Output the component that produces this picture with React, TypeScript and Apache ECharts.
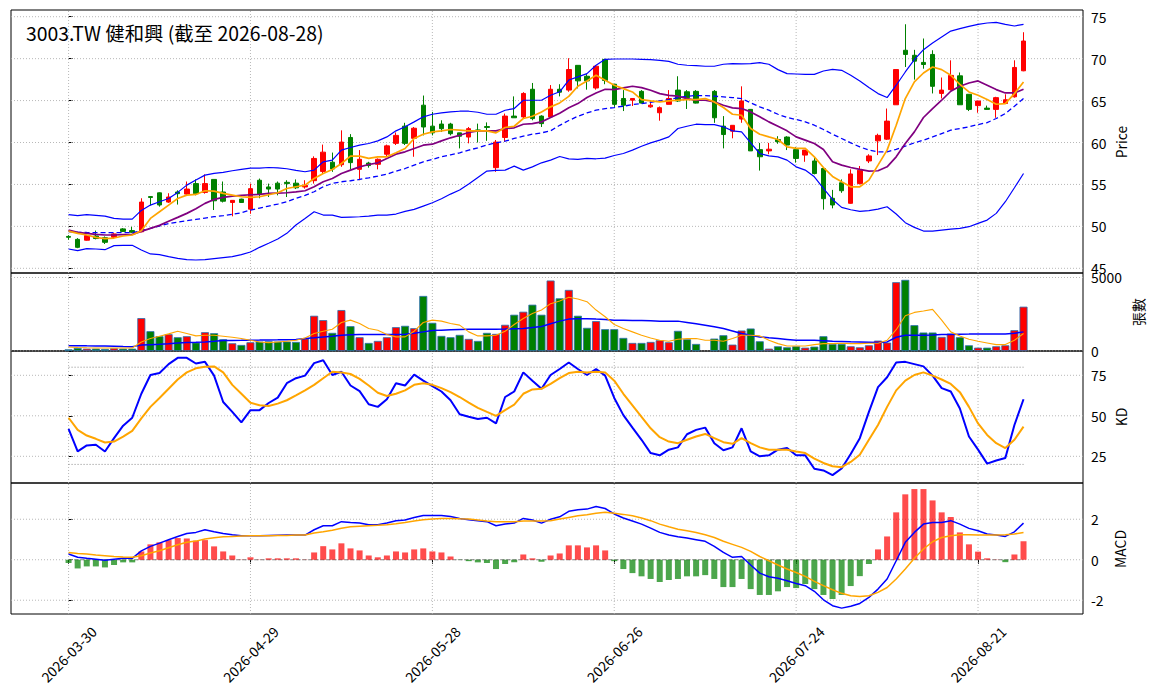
import React, { useEffect, useRef } from "react";
import * as echarts from "echarts";

const FONT = "'Noto Sans CJK TC', 'Noto Sans', sans-serif";

const TITLE = "3003.TW 健和興 (截至 2026-08-28)";

const dates = [
  "2026-03-30", "2026-03-31", "2026-04-01", "2026-04-02", "2026-04-07", "2026-04-08", "2026-04-09", "2026-04-10", "2026-04-13", "2026-04-14",
  "2026-04-15", "2026-04-16", "2026-04-17", "2026-04-20", "2026-04-21", "2026-04-22", "2026-04-23", "2026-04-24", "2026-04-27", "2026-04-28",
  "2026-04-29", "2026-04-30", "2026-05-04", "2026-05-05", "2026-05-06", "2026-05-07", "2026-05-08", "2026-05-11", "2026-05-12", "2026-05-13",
  "2026-05-14", "2026-05-15", "2026-05-18", "2026-05-19", "2026-05-20", "2026-05-21", "2026-05-22", "2026-05-25", "2026-05-26", "2026-05-27",
  "2026-05-28", "2026-05-29", "2026-06-01", "2026-06-02", "2026-06-03", "2026-06-04", "2026-06-05", "2026-06-08", "2026-06-09", "2026-06-10",
  "2026-06-11", "2026-06-12", "2026-06-15", "2026-06-16", "2026-06-17", "2026-06-18", "2026-06-22", "2026-06-23", "2026-06-24", "2026-06-25",
  "2026-06-26", "2026-06-29", "2026-06-30", "2026-07-01", "2026-07-02", "2026-07-03", "2026-07-06", "2026-07-07", "2026-07-08", "2026-07-09",
  "2026-07-10", "2026-07-13", "2026-07-14", "2026-07-15", "2026-07-16", "2026-07-17", "2026-07-20", "2026-07-21", "2026-07-22", "2026-07-23",
  "2026-07-24", "2026-07-27", "2026-07-28", "2026-07-29", "2026-07-30", "2026-07-31", "2026-08-03", "2026-08-04", "2026-08-05", "2026-08-06",
  "2026-08-07", "2026-08-10", "2026-08-11", "2026-08-12", "2026-08-13", "2026-08-14", "2026-08-17", "2026-08-18", "2026-08-19", "2026-08-20",
  "2026-08-21", "2026-08-24", "2026-08-25", "2026-08-26", "2026-08-27", "2026-08-28",
];

const opens = [
  48.8, 48.45, 48.35, 48.85, 48.65, 48.7, 49.7, 49.5, 49.35, 53.55,
  54.0, 52.9, 54.1, 53.85, 55.1, 54.05, 55.6, 54.1, 52.85, 53.25,
  52.05, 55.5, 54.7, 55.15, 55.25, 55.15, 54.7, 55.45, 56.55, 57.65,
  57.35, 60.6, 56.8, 57.55, 57.4, 58.6, 59.9, 61.95, 60.5, 64.45,
  61.95, 62.2, 62.2, 61.15, 60.65, 61.5, 61.9, 57.0, 60.6, 63.15,
  63.05, 66.35, 63.15, 63.05, 66.35, 66.25, 69.2, 67.9, 66.5, 69.9,
  66.95, 65.25, 65.05, 66.1, 64.25, 63.55, 64.55, 66.25, 66.05, 66.1,
  null, 66.1, 61.95, 61.35, 62.8, 63.95, 59.15, 59.0, 60.35, 60.65,
  59.15, 58.5, 57.8, 56.9, 53.35, 55.2, 52.75, 55.1, 57.8, 60.2,
  60.4, 64.5, 71.0, 70.4, 69.55, 70.5, 65.85, 66.3, 67.95, 65.75,
  64.4, 64.1, 63.95, 64.65, 65.45, 68.55,
];

const highs = [
  48.95, 48.6, 49.0, 49.5, 48.8, 49.2, 49.8, 49.95, 53.35, 53.6,
  54.05, 53.95, 54.3, 55.35, 55.6, 56.2, 55.6, 55.35, 53.1, 53.3,
  55.1, 55.7, 55.1, 55.35, 55.5, 55.6, 55.5, 58.35, 59.75, 58.8,
  61.45, 61.0, 59.1, 57.7, 58.1, 59.75, 61.2, 62.35, 61.85, 65.6,
  63.65, 62.65, 62.35, 61.15, 61.85, 62.25, 62.4, 60.3, 63.45, 65.5,
  66.0, 67.1, 63.25, 66.85, 66.95, 70.05, 69.2, 68.15, 69.2, 70.0,
  66.95, 66.25, 65.3, 66.25, 64.9, 64.3, 66.25, 67.9, 66.25, 66.25,
  null, 66.25, 63.15, 62.05, 66.7, 63.95, 59.95, 59.95, 60.75, 60.75,
  59.45, 59.1, 58.2, 56.9, 54.35, 55.6, 56.8, 57.2, 58.6, 61.05,
  64.05, 68.7, 74.1, 71.05, 72.4, 71.0, 67.75, 69.8, 68.35, 65.75,
  64.95, 64.4, 65.45, 65.75, 69.8, 73.15,
];

const lows = [
  48.4, 47.4, 48.3, 48.45, 47.9, 48.6, 49.35, 49.2, 49.3, 52.5,
  52.35, 52.8, 52.6, 53.7, 53.7, 53.9, 51.95, 52.85, 51.2, 52.8,
  51.5, 53.35, 53.5, 53.7, 53.5, 54.45, 54.5, 55.1, 56.3, 56.5,
  57.1, 56.8, 55.5, 57.0, 56.8, 58.3, 59.7, 59.7, 58.3, 60.85,
  60.85, 61.25, 60.85, 59.3, 59.9, 60.0, 60.2, 56.5, 60.1, 62.95,
  62.9, 62.65, 61.85, 62.95, 65.5, 66.05, 66.45, 66.3, 66.3, 66.95,
  64.25, 63.75, 64.35, 64.65, 64.15, 62.6, 64.55, 64.85, 64.0, 64.65,
  null, 62.35, 59.3, 60.5, 62.35, 59.0, 56.65, 58.6, 59.85, 59.1,
  57.6, 57.7, 56.2, 52.0, 52.15, 54.0, 52.7, 55.0, 57.55, 58.5,
  60.3, 64.5, 69.0, 67.5, 68.8, 65.85, 65.25, 66.2, 64.5, 63.75,
  63.55, 63.9, 62.95, 64.6, 65.35, 68.5,
];

const closes = [
  48.7, 47.5, 48.9, 48.55, 48.1, 49.1, 49.4, 49.3, 52.9, 53.45,
  52.55, 53.5, 53.9, 54.45, 53.9, 55.1, 53.05, 53.0, 53.1, 52.85,
  54.5, 53.85, 54.45, 54.45, 55.1, 54.6, 54.9, 58.1, 58.85, 56.85,
  60.05, 57.6, 58.0, 57.25, 58.0, 59.6, 60.85, 59.9, 61.7, 61.85,
  61.15, 61.65, 61.05, 60.75, 61.65, 61.4, 61.8, 60.05, 63.15, 62.95,
  65.85, 62.85, 62.25, 66.35, 66.0, 68.7, 67.35, 67.35, 69.1, 67.4,
  64.55, 64.45, 65.25, 64.7, 64.45, 64.15, 65.25, 64.95, 65.35, 64.7,
  null, 62.95, 60.95, 62.05, 64.95, 59.0, 58.3, 59.2, 60.1, 59.7,
  58.1, 59.1, 56.3, 53.3, 52.55, 54.25, 56.25, 56.7, 58.4, 60.85,
  62.55, 68.7, 70.5, 69.7, 69.3, 66.7, 66.25, 68.0, 64.5, 63.95,
  64.95, 63.95, 65.35, 65.1, 68.95, 72.1,
];

const ma5 = [
  49.44, 49.17, 48.97, 48.69, 48.53, 48.61, 48.85, 48.97, 49.48, 50.95,
  51.75, 52.54, 53.33, 53.73, 53.81, 54.25, 54.21, 53.93, 53.73, 53.53,
  53.45, 53.53, 53.77, 54.01, 54.52, 54.72, 54.92, 55.71, 56.31, 56.79,
  57.5, 58.37, 58.37, 58.1, 58.29, 58.29, 58.77, 59.29, 60.48, 60.99,
  61.27, 61.39, 61.55, 61.47, 61.39, 61.39, 61.39, 61.15, 61.79, 61.94,
  62.86, 63.13, 63.65, 64.25, 64.72, 65.5, 66.71, 67.34, 68.02, 67.42,
  66.83, 66.43, 66.03, 65.12, 64.96, 64.84, 64.96, 65.04, 65.12, 65.12,
  65.24, 64.84, 64.17, 63.37, 63.25, 61.67, 60.99, 60.67, 60.36, 59.48,
  59.29, 59.29, 58.29, 57.02, 55.95, 55.32, 54.72, 54.72, 55.52, 57.3,
  59.09, 62.06, 65.24, 67.22, 68.29, 69.01, 68.69, 68.02, 66.94, 66.03,
  65.63, 65.12, 64.56, 64.64, 65.83, 67.22,
];

const ma10 = [
  49.56, 49.29, 49.17, 49.05, 48.97, 48.97, 49.01, 49.05, 49.4, 49.76,
  50.12, 50.6, 51.07, 51.55, 52.1, 52.74, 53.21, 53.45, 53.61, 53.69,
  53.77, 53.81, 53.93, 53.97, 54.01, 54.11, 54.25, 54.72, 55.32, 55.71,
  56.31, 56.71, 57.1, 57.38, 57.58, 58.1, 58.61, 58.89, 59.29, 59.68,
  59.8, 60.2, 60.56, 60.87, 61.19, 61.39, 61.39, 61.39, 61.67, 61.75,
  62.18, 62.26, 62.46, 62.98, 63.5, 64.15, 64.64, 65.36, 65.91, 66.35,
  66.31, 66.51, 66.71, 66.55, 66.23, 65.83, 65.63, 65.52, 65.24, 65.04,
  65.04, 64.84, 64.44, 64.13, 64.05, 63.65, 63.06, 62.46, 61.94, 61.39,
  60.67, 60.28, 59.88, 59.17, 57.7, 57.3, 57.02, 56.79, 56.59, 56.63,
  57.1, 58.29, 59.88, 61.27, 62.98, 64.05, 65.04, 66.11, 66.71, 67.1,
  67.34, 66.83, 66.31, 65.91, 65.91, 66.35,
];

const bbUpper = [
  51.39, 51.27, 51.39, 51.31, 51.23, 50.95, 50.87, 50.87, 51.9, 52.54,
  52.94, 53.33, 54.05, 54.92, 55.52, 56.11, 56.31, 56.43, 56.63, 56.79,
  56.94, 56.94, 57.02, 56.98, 56.87, 56.67, 56.51, 56.71, 57.7, 57.9,
  59.09, 59.4, 59.68, 59.88, 60.2, 60.67, 61.39, 61.87, 62.46, 63.06,
  63.37, 63.53, 63.65, 63.73, 63.73, 63.61, 63.37, 63.37, 63.85, 64.05,
  65.04, 65.04, 65.04, 65.63, 66.05, 67.45, 67.82, 68.21, 69.21, 69.92,
  69.96, 69.96, 69.96, 69.92, 69.88, 69.8, 69.68, 69.33, 69.21, 69.17,
  69.09, 69.09, 69.33, 69.4, 69.37, 69.4, 69.52, 69.33, 68.69, 68.21,
  68.17, 68.13, 68.13, 68.53, 68.73, 68.61, 68.02, 67.34, 66.55, 65.83,
  65.36, 66.83, 68.41, 69.88, 71.07, 71.87, 72.58, 73.29, 73.57, 73.85,
  74.09, 74.25, 74.33, 74.09, 73.89, 74.09,
];

const bbMid = [
  49.37, 49.3, 49.27, 49.25, 49.25, 49.25, 49.25, 49.25, 49.48, 49.76,
  50.04, 50.32, 50.52, 50.67, 50.83, 50.99, 51.15, 51.27, 51.43, 51.63,
  51.94, 52.18, 52.42, 52.66, 52.94, 53.35, 53.69, 54.13, 54.72, 55.12,
  55.32, 55.44, 55.6, 55.79, 55.99, 56.23, 56.59, 56.9, 57.3, 57.7,
  57.98, 58.29, 58.53, 58.77, 59.09, 59.37, 59.72, 59.96, 60.16, 60.48,
  60.75, 60.99, 61.15, 61.39, 62.05, 62.62, 63.13, 63.53, 63.85, 64.05,
  64.17, 64.33, 64.52, 64.64, 64.8, 64.96, 65.12, 65.36, 65.52, 65.6,
  65.6, 65.52, 65.44, 65.36, 65.24, 64.72, 64.25, 63.85, 63.37, 62.98,
  62.74, 62.46, 62.06, 61.55, 60.99, 60.48, 59.96, 59.48, 59.09, 58.89,
  58.89, 59.17, 59.56, 59.96, 60.28, 60.67, 61.07, 61.47, 61.67, 61.87,
  62.14, 62.38, 62.86, 63.45, 64.33, 65.24,
];

const bbLower = [
  47.3, 47.1, 47.34, 47.3, 47.22, 47.7, 47.74, 47.74, 47.18, 46.71,
  46.63, 46.39, 46.19, 46.03, 45.99, 46.03, 46.15, 46.27, 46.39, 46.63,
  46.94, 47.5, 47.98, 48.49, 49.17, 50.16, 50.95, 51.75, 51.35, 51.35,
  51.07, 51.11, 51.15, 51.23, 51.35, 51.35, 51.47, 51.79, 52.02, 52.42,
  52.82, 53.29, 53.85, 54.33, 55.04, 55.83, 56.59, 56.67, 56.71, 57.18,
  56.71, 57.1, 57.58, 57.9, 58.33, 58.04, 57.98, 58.1, 58.06, 58.13,
  58.45, 58.69, 59.09, 59.56, 59.96, 60.28, 60.67, 61.67, 61.94, 62.18,
  62.14, 62.14, 61.87, 61.39, 61.27, 59.96, 58.69, 58.41, 58.29, 57.9,
  57.1, 56.71, 55.91, 54.52, 53.21, 52.26, 51.98, 51.79, 51.87, 52.06,
  52.34, 51.47, 50.44, 49.88, 49.44, 49.44, 49.56, 49.68, 49.76, 49.96,
  50.36, 50.75, 51.55, 52.94, 54.6, 56.31,
];

const volumes = [
  114, 205, 160, 160, 137, 183, 160, 160, 2237, 1347,
  1005, 1142, 936, 1005, 571, 1279, 1210, 799, 525, 411,
  594, 639, 662, 639, 639, 616, 845, 2397, 2100, 1233,
  2785, 1689, 936, 548, 685, 936, 1621, 1712, 1552, 3744,
  1918, 1027, 936, 1096, 822, 685, 1233, 1164, 1781, 2466,
  2671, 3150, 2466, 4794, 3584, 4155, 2397, 1575, 2032, 1484,
  1484, 890, 548, 548, 616, 731, 594, 1370, 799, 479,
  null, 845, 1073, 434, 1393, 1530, 662, 160, 320, 251,
  320, 228, 297, 1005, 479, 479, 320, 251, 388, 708,
  571, 4680, 4840, 1758, 1256, 1256, 959, 1187, 936, 388,
  228, 228, 320, 388, 1416, 3014,
];

const volMa5 = [
  274, 240, 220, 205, 205, 205, 205, 205, 616, 845,
  1005, 1164, 1347, 1187, 1027, 1073, 1073, 1005, 936, 845,
  731, 616, 571, 616, 662, 731, 890, 1187, 1347, 1484,
  1940, 2100, 1872, 1530, 1416, 1119, 959, 959, 1347, 1940,
  2100, 2032, 1872, 1758, 1301, 1027, 1027, 1073, 1347, 1804,
  2215, 2557, 2785, 3220, 3402, 3653, 3539, 3356, 2785, 2329,
  1804, 1530, 1301, 1073, 890, 731, 662, 799, 845, 845,
  731, 731, 662, 845, 1073, 1073, 1027, 731, 502, 342,
  342, 342, 434, 502, 502, 525, 502, 502, 525, 525,
  731, 1450, 2397, 2625, 2717, 2831, 2100, 1301, 1027, 799,
  662, 548, 434, 434, 731, 1187,
];

const volMa20 = [
  365, 360, 350, 345, 340, 330, 310, 297, 400, 430,
  460, 500, 548, 570, 590, 616, 660, 708, 720, 725,
  731, 740, 754, 760, 770, 776, 845, 900, 959, 1010,
  1073, 1100, 1119, 1119, 1119, 1119, 1130, 1142, 1200, 1301,
  1393, 1420, 1440, 1460, 1475, 1484, 1484, 1484, 1490, 1510,
  1530, 1600, 1667, 1849, 2032, 2169, 2200, 2200, 2169, 2140,
  2100, 2090, 2080, 2070, 2050, 2032, 2032, 2032, 1940, 1850,
  1758, 1650, 1530, 1360, 1187, 1070, 959, 900, 845, 790,
  731, 731, 731, 700, 662, 650, 630, 616, 600, 571,
  620, 936, 1073, 1073, 1073, 1090, 1119, 1130, 1140, 1150,
  1164, 1164, 1164, 1164, 1200, 1301,
];

const kValues = [
  41.9, 28.0, 31.7, 32.1, 28.0, 36.2, 43.9, 48.8, 63.6, 75.2,
  76.4, 81.9, 85.8, 85.8, 82.3, 83.3, 74.8, 58.5, 52.4, 45.9,
  53.5, 53.5, 57.9, 61.2, 70.1, 73.2, 74.8, 82.5, 84.3, 75.2,
  77.2, 68.7, 65.2, 57.1, 55.5, 60.2, 70.1, 68.7, 75.4, 71.7,
  68.3, 65.0, 59.6, 51.0, 49.4, 48.0, 48.8, 45.3, 61.6, 65.0,
  76.8, 71.7, 66.7, 75.2, 78.9, 82.9, 78.9, 75.2, 78.9, 74.8,
  61.0, 50.4, 42.7, 35.2, 27.0, 25.6, 29.1, 30.5, 38.6, 41.3,
  42.7, 33.1, 28.7, 30.5, 42.3, 28.0, 25.0, 25.6, 29.1, 30.1,
  25.6, 25.6, 17.3, 16.3, 13.4, 17.5, 26.4, 36.2, 52.4, 67.7,
  73.8, 82.9, 83.3, 81.9, 80.5, 74.8, 67.1, 65.0, 54.5, 37.2,
  29.1, 20.5, 22.4, 24.0, 44.3, 60.2,
];

const dValues = [
  48.8, 41.3, 37.8, 35.8, 33.5, 34.1, 37.2, 40.7, 48.4, 55.5,
  61.0, 66.7, 72.4, 76.8, 79.3, 80.3, 80.5, 76.8, 69.1, 63.6,
  58.1, 56.5, 56.1, 57.5, 59.6, 62.6, 65.7, 69.1, 73.2, 77.2,
  76.8, 75.8, 72.8, 68.7, 64.2, 62.2, 63.6, 65.7, 69.1, 70.1,
  69.1, 67.1, 64.6, 61.6, 58.1, 54.9, 52.4, 50.0, 53.5, 56.9,
  63.6, 66.3, 66.7, 69.7, 73.2, 76.4, 77.2, 76.8, 77.2, 76.8,
  71.7, 63.6, 56.5, 49.4, 42.3, 36.8, 34.1, 33.1, 35.2, 37.2,
  38.8, 36.2, 33.7, 32.7, 36.2, 33.1, 30.5, 29.1, 29.1, 29.1,
  28.0, 27.0, 23.6, 20.9, 18.9, 18.3, 21.5, 26.0, 35.2, 44.3,
  55.5, 65.7, 71.7, 75.2, 76.8, 74.8, 72.4, 69.7, 64.6, 55.5,
  45.3, 38.2, 33.1, 30.1, 35.2, 43.3,
];

const difValues = [
  0.28, 0.12, 0.07, 0.03, -0.02, 0.03, 0.07, 0.07, 0.44, 0.66,
  0.82, 0.99, 1.15, 1.3, 1.35, 1.48, 1.38, 1.3, 1.23, 1.19,
  1.19, 1.19, 1.2, 1.21, 1.22, 1.22, 1.22, 1.48, 1.68, 1.68,
  1.88, 1.84, 1.81, 1.73, 1.73, 1.81, 1.93, 1.96, 2.09, 2.19,
  2.19, 2.19, 2.14, 2.04, 1.98, 1.93, 1.88, 1.68, 1.76, 1.81,
  2.04, 1.96, 1.81, 2.0, 2.12, 2.39, 2.47, 2.5, 2.63, 2.53,
  2.26, 2.06, 1.91, 1.76, 1.56, 1.35, 1.22, 1.14, 1.07, 0.99,
  0.91, 0.66, 0.36, 0.12, 0.16, -0.26, -0.66, -0.84, -0.91, -1.04,
  -1.17, -1.28, -1.56, -1.98, -2.27, -2.39, -2.3, -2.16, -1.86, -1.45,
  -0.95, -0.05, 0.86, 1.35, 1.76, 1.84, 1.84, 1.93, 1.76, 1.55,
  1.43, 1.27, 1.22, 1.15, 1.38, 1.81,
];

const deaValues = [
  0.36, 0.31, 0.28, 0.23, 0.2, 0.16, 0.13, 0.12, 0.2, 0.33,
  0.44, 0.59, 0.74, 0.86, 0.92, 1.02, 1.09, 1.14, 1.15, 1.17,
  1.19, 1.19, 1.19, 1.2, 1.2, 1.22, 1.22, 1.32, 1.38, 1.46,
  1.55, 1.63, 1.66, 1.68, 1.7, 1.73, 1.78, 1.84, 1.91, 1.98,
  2.01, 2.04, 2.04, 2.02, 2.01, 1.96, 1.91, 1.88, 1.88, 1.88,
  1.91, 1.91, 1.91, 1.93, 2.01, 2.09, 2.17, 2.22, 2.3, 2.35,
  2.3, 2.24, 2.17, 2.06, 1.93, 1.76, 1.63, 1.51, 1.43, 1.35,
  1.23, 1.1, 0.91, 0.76, 0.61, 0.41, 0.16, -0.05, -0.26, -0.46,
  -0.63, -0.82, -1.07, -1.28, -1.48, -1.66, -1.78, -1.81, -1.78, -1.61,
  -1.37, -0.95, -0.46, 0.07, 0.53, 0.89, 1.1, 1.19, 1.23, 1.23,
  1.22, 1.22, 1.22, 1.23, 1.27, 1.35,
];

const histValues = [
  -0.16, -0.43, -0.33, -0.33, -0.38, -0.26, -0.13, -0.13, 0.41, 0.76,
  0.86, 0.97, 1.07, 1.05, 0.94, 0.97, 0.66, 0.41, 0.21, 0.01,
  0.12, 0.01, 0.07, 0.07, 0.07, 0.07, 0.01, 0.36, 0.67, 0.51,
  0.81, 0.56, 0.46, 0.21, 0.12, 0.21, 0.41, 0.36, 0.51, 0.56,
  0.41, 0.36, 0.16, -0.01, -0.07, -0.13, -0.16, -0.46, -0.21, -0.13,
  0.26, 0.07, -0.1, 0.21, 0.31, 0.71, 0.71, 0.61, 0.71, 0.46,
  -0.07, -0.46, -0.66, -0.82, -0.95, -1.1, -1.0, -0.95, -0.82, -0.82,
  -0.76, -0.95, -1.35, -1.35, -0.95, -1.45, -1.74, -1.74, -1.56, -1.35,
  -1.4, -1.2, -1.45, -1.74, -1.94, -1.74, -1.3, -0.81, -0.21, 0.51,
  1.15, 2.34, 3.23, 3.49, 3.49, 2.93, 2.34, 2.11, 1.35, 0.76,
  0.4, 0.07, 0.01, -0.12, 0.26, 0.91,
];

const xTickIdx = [0, 20, 40, 60, 80, 100];
const priceTicks = [45, 50, 55, 60, 65, 70, 75];
const volTicks = [0, 5000];
const kdTicks = [25, 50, 75];
const macdTicks = [-2, 0, 2];
const kdGuides = [20, 80];
const macdZero = [0];

const X_MIN = -6.33;
const X_MAX = 111.54;
const PRICE_RANGE = [44.44, 75.8];
const VOL_RANGE = [0, 5306];
const KD_RANGE = [8.52, 90.0];
const MACD_RANGE = [-2.68, 3.79];

const UP = "#ff0000";
const DOWN = "#008000";

function lineSeries(k: number, arr: number[], color: string, width: number, type: any = "solid", z = 4) {
  return {
    type: "line",
    xAxisIndex: k,
    yAxisIndex: k,
    data: arr.map((v, i) => [i, v]),
    showSymbol: false,
    symbol: "none",
    lineStyle: { color, width, type },
    silent: true,
    z,
  };
}

function gridLines(k: number, yRange: number[], yTicks: number[]) {
  const style = { color: "#b0b0b0", width: 0.9, type: [1, 2] };
  const out: any[] = [];
  xTickIdx.forEach((x) =>
    out.push({
      type: "line", xAxisIndex: k, yAxisIndex: k, silent: true, z: 0,
      showSymbol: false, symbol: "none", lineStyle: style,
      data: [[x, yRange[0]], [x, yRange[1]]],
    })
  );
  yTicks.forEach((y) =>
    out.push({
      type: "line", xAxisIndex: k, yAxisIndex: k, silent: true, z: 0,
      showSymbol: false, symbol: "none", lineStyle: style,
      data: [[X_MIN, y], [X_MAX, y]],
    })
  );
  return out;
}

function guideLines(k: number, vals: number[], color: string, type: any, width: number) {
  return vals.map((y) => ({
    type: "line", xAxisIndex: k, yAxisIndex: k, silent: true, z: 1,
    showSymbol: false, symbol: "none", lineStyle: { color, type, width },
    data: [[0, y], [dates.length - 1, y]],
  }));
}

function yAxis(k: number, range: number[], ticks: number[]) {
  return {
    type: "value",
    gridIndex: k,
    position: "right",
    min: range[0],
    max: range[1],
    axisLine: { show: false },
    splitLine: { show: false },
    axisTick: { show: true, inside: false, length: 4, customValues: ticks, lineStyle: { color: "#000", width: 1 } },
    axisLabel: {
      show: true, customValues: ticks, margin: 8, color: "#000", fontSize: 13.9, fontFamily: FONT,
      formatter: (v: number) => String(v),
    },
  };
}

function xAxis(k: number, withLabels: boolean) {
  return {
    type: "value",
    gridIndex: k,
    min: X_MIN,
    max: X_MAX,
    axisLine: { show: false },
    splitLine: { show: false },
    axisTick: withLabels
      ? { show: true, inside: false, length: 4, customValues: xTickIdx, lineStyle: { color: "#000", width: 1 } }
      : { show: false },
    axisLabel: withLabels
      ? {
          show: true, customValues: xTickIdx, rotate: 45, align: "center", verticalAlign: "middle",
          margin: 40, color: "#000", fontSize: 13.9, fontFamily: FONT,
          formatter: (v: number) => dates[Math.round(v)] || "",
        }
      : { show: false },
  };
}

function buildOption() {
  const candleData: any[] = [];
  opens.forEach((o, i) => {
    if (o == null) return;
    candleData.push([i, o, closes[i], lows[i], highs[i]]);
  });

  const volData: any[] = [];
  volumes.forEach((v, i) => {
    if (v == null) return;
    volData.push({ value: [i, v], itemStyle: { color: (closes[i] as number) >= (opens[i] as number) ? UP : DOWN } });
  });

  const histData = histValues.map((v, i) => ({
    value: [i, v],
    itemStyle: { color: v >= 0 ? "rgba(255,0,0,0.7)" : "rgba(0,128,0,0.7)" },
  }));

  const gridBase = { left: 11, right: 72, show: true, borderColor: "#000", borderWidth: 1, backgroundColor: "transparent" };

  const axisNameStyle = (text: string, x: number, y: number) => ({
    type: "text",
    x,
    y,
    rotation: Math.PI / 2,
    silent: true,
    style: {
      text, fill: "#000", font: `13.9px ${FONT}`,
      align: "center", verticalAlign: "middle", textAlign: "center", textVerticalAlign: "middle",
    },
  });

  return {
    animation: false,
    backgroundColor: "#ffffff",
    grid: [
      { ...gridBase, top: 10, height: 263 },
      { ...gridBase, top: 273, height: 78 },
      { ...gridBase, top: 351, height: 132 },
      { ...gridBase, top: 483, height: 131 },
    ],
    xAxis: [xAxis(0, false), xAxis(1, false), xAxis(2, false), xAxis(3, true)],
    yAxis: [
      yAxis(0, PRICE_RANGE, priceTicks),
      yAxis(1, VOL_RANGE, volTicks),
      yAxis(2, KD_RANGE, kdTicks),
      yAxis(3, MACD_RANGE, macdTicks),
    ],
    graphic: [
      {
        type: "text", x: 26, y: 32, silent: true,
        style: {
          text: TITLE, fill: "#000", font: `19.4px ${FONT}`,
          verticalAlign: "middle", textVerticalAlign: "middle",
        },
      },
      axisNameStyle("Price", 1121, 142),
      axisNameStyle("張數", 1138, 312),
      axisNameStyle("KD", 1121, 417),
      axisNameStyle("MACD", 1120, 549),
    ],
    series: [
      ...gridLines(0, PRICE_RANGE, priceTicks),
      ...gridLines(1, VOL_RANGE, volTicks),
      ...gridLines(2, KD_RANGE, kdTicks),
      ...gridLines(3, MACD_RANGE, macdTicks),
      {
        type: "candlestick",
        xAxisIndex: 0,
        yAxisIndex: 0,
        data: candleData,
        encode: { x: 0, y: [1, 2, 3, 4] },
        barWidth: 5,
        silent: true,
        z: 3,
        itemStyle: { color: UP, color0: DOWN, borderColor: UP, borderColor0: DOWN, borderWidth: 1 },
      },
      lineSeries(0, bbUpper, "#0000ff", 1.2),
      lineSeries(0, bbLower, "#0000ff", 1.2),
      lineSeries(0, bbMid, "#0000ff", 1.3, [5, 3]),
      lineSeries(0, ma10, "#800080", 1.7, "solid", 5),
      lineSeries(0, ma5, "#ffa500", 1.7, "solid", 6),
      {
        type: "bar",
        xAxisIndex: 1,
        yAxisIndex: 1,
        data: volData,
        barWidth: 8,
        silent: true,
        z: 2,
        itemStyle: { borderColor: "#2a6db0", borderWidth: 0.8 },
      },
      lineSeries(1, volMa20, "#0000ff", 1.5),
      lineSeries(1, volMa5, "#ffa500", 1.1, "solid", 5),
      ...guideLines(2, kdGuides, "#8a8a8a", [1, 2], 1),
      lineSeries(2, kValues, "#0000ff", 2),
      lineSeries(2, dValues, "#ffa500", 2, "solid", 5),
      ...guideLines(3, macdZero, "#808080", [4, 2], 1.2),
      {
        type: "bar",
        xAxisIndex: 3,
        yAxisIndex: 3,
        data: histData,
        barWidth: 6,
        silent: true,
        z: 2,
      },
      lineSeries(3, difValues, "#0000ff", 1.5),
      lineSeries(3, deaValues, "#ffa500", 1.5, "solid", 5),
    ],
  };
}

export default function App() {
  const ref = useRef<HTMLDivElement>(null);
  useEffect(() => {
    if (!ref.current) return;
    const chart = echarts.init(ref.current, null, { renderer: "svg", width: 1155, height: 699 });
    chart.setOption(buildOption() as any);
    return () => chart.dispose();
  }, []);
  return (
    <div
      ref={ref}
      style={{ position: "fixed", left: 0, top: 0, width: 1155, height: 699, background: "#fff" }}
    />
  );
}
